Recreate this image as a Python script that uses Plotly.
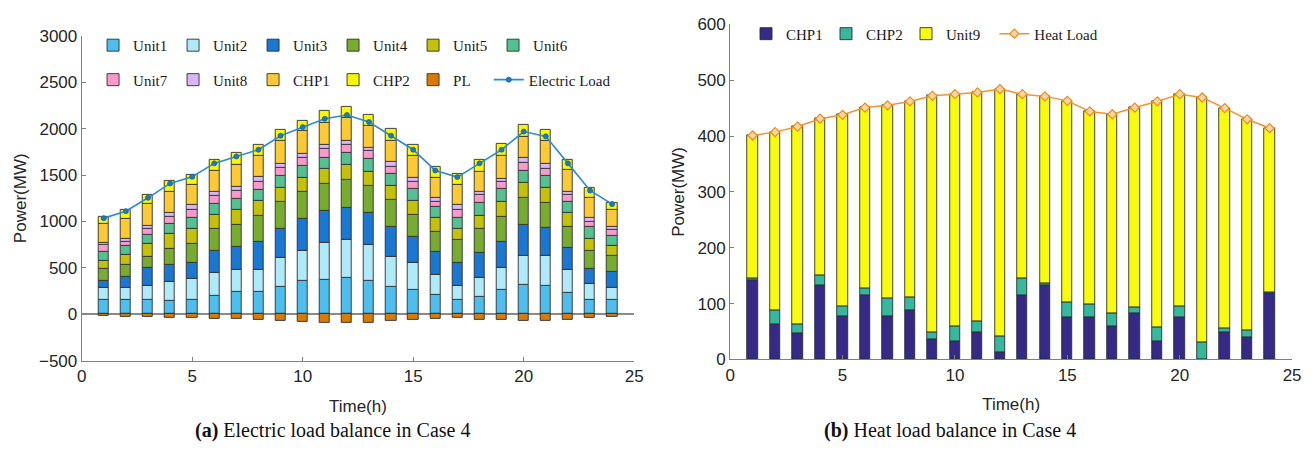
import plotly.graph_objects as go
from plotly.subplots import make_subplots

# ---- data -----------------------------------------------------------------
hours = list(range(1, 25))

# Electric balance (MW)
unit1 = [158, 158, 151, 144, 161, 202, 247, 247, 295, 357, 374, 398, 363, 297, 262, 209, 158, 185, 262, 316, 305, 226, 155, 158]
unit2 = [130, 130, 154, 206, 223, 240, 234, 237, 309, 325, 394, 405, 388, 317, 290, 216, 147, 203, 239, 315, 326, 250, 174, 130]
unit3 = [77, 113, 199, 188, 168, 237, 247, 301, 319, 344, 343, 349, 343, 326, 285, 252, 254, 278, 281, 336, 298, 241, 165, 170]
unit4 = [130, 127, 117, 169, 209, 244, 240, 275, 291, 298, 292, 296, 292, 291, 240, 212, 240, 260, 271, 288, 268, 223, 188, 172]
unit5 = [84, 110, 140, 157, 162, 147, 155, 161, 151, 147, 161, 160, 154, 155, 147, 148, 118, 140, 157, 165, 164, 154, 130, 105]
unit6 = [94, 96, 93, 110, 120, 120, 126, 124, 124, 127, 124, 128, 130, 130, 127, 116, 122, 130, 138, 130, 128, 113, 128, 112]
unit7 = [76, 51, 69, 76, 86, 83, 79, 82, 85, 86, 92, 88, 86, 76, 76, 62, 86, 86, 75, 83, 78, 83, 61, 58]
unit8 = [20, 28, 34, 44, 51, 51, 41, 52, 52, 45, 44, 42, 41, 51, 44, 44, 51, 41, 41, 51, 52, 34, 42, 35]
chp1_e = [204, 213, 230, 223, 216, 223, 244, 226, 240, 247, 241, 247, 230, 230, 234, 213, 223, 216, 244, 233, 247, 233, 212, 182]
chp2_e = [76, 103, 96, 120, 110, 120, 127, 119, 120, 113, 127, 123, 120, 120, 116, 121, 110, 127, 127, 120, 120, 110, 103, 82]
ploss = [-20, -22, -28, -33, -35, -45, -50, -55, -68, -80, -88, -93, -89, -72, -62, -45, -38, -55, -62, -75, -68, -55, -35, -25]
elec_load = [1036, 1111, 1255, 1410, 1482, 1626, 1701, 1773, 1924, 2017, 2106, 2147, 2072, 1924, 1773, 1550, 1478, 1626, 1773, 1969, 1917, 1626, 1334, 1187]

# Heat balance (MW)
chp1_h = [141, 63, 47, 133, 78, 114, 78, 88, 36, 32, 49, 13, 115, 133, 76, 76, 59, 83, 33, 76, 1, 48, 40, 118]
chp2_h = [4, 25, 16, 17, 18, 13, 31, 24, 13, 27, 19, 29, 30, 4, 26, 22, 24, 11, 24, 20, 30, 7, 12, 3]
unit9 = [256, 319, 354, 281, 342, 324, 346, 350, 423, 416, 410, 442, 330, 334, 361, 346, 356, 357, 405, 379, 438, 395, 378, 293]
heat_load = [401, 407, 417, 431, 438, 451, 455, 462, 472, 475, 478, 484, 475, 471, 463, 444, 439, 451, 462, 475, 469, 450, 430, 414]

# ---- styling ----------------------------------------------------------------
W, H = 1312, 456
SANS = "Liberation Sans, Arial, sans-serif"
SERIF = "Liberation Serif, Times New Roman, serif"
AX = "#808080"
TXT = "#262626"
EDGE = "#2e2e2e"
BAR_W = 0.46

elec_series = [
    ("Unit1", unit1, "#4DBEEE", "legend"),
    ("Unit2", unit2, "#AEEAFA", "legend"),
    ("Unit3", unit3, "#1A78D2", "legend"),
    ("Unit4", unit4, "#77AC30", "legend"),
    ("Unit5", unit5, "#C3C10A", "legend"),
    ("Unit6", unit6, "#55C190", "legend"),
    ("Unit7", unit7, "#FB99CB", "legend2"),
    ("Unit8", unit8, "#D8B6FA", "legend2"),
    ("CHP1", chp1_e, "#FDCA35", "legend2"),
    ("CHP2", chp2_e, "#F8F800", "legend2"),
    ("PL", ploss, "#D97A06", "legend2"),
]

heat_series = [
    ("CHP1", chp1_h, "#352A87"),
    ("CHP2", chp2_h, "#36B89C"),
    ("Unit9", unit9, "#F9FB0E"),
]

fig = make_subplots(rows=1, cols=2)

for name, vals, color, lg in elec_series:
    fig.add_trace(go.Bar(
        x=hours, y=vals, name=name, width=BAR_W,
        marker=dict(color=color, line=dict(color=EDGE, width=0.9)),
        legend=lg,
    ), row=1, col=1)

fig.add_trace(go.Scatter(
    x=hours, y=elec_load, name="Electric Load", mode="lines+markers",
    line=dict(color="#2A8CD6", width=1.6),
    marker=dict(symbol="circle", size=5, color="#1C78C4",
                line=dict(color="#1466AE", width=0.8)),
    legend="legend4",
), row=1, col=1)

for name, vals, color in heat_series:
    fig.add_trace(go.Bar(
        x=hours, y=vals, name=name, width=BAR_W,
        marker=dict(color=color, line=dict(color=EDGE, width=0.9)),
        legend="legend3",
    ), row=1, col=2)

fig.add_trace(go.Scatter(
    x=hours, y=heat_load, name="Heat Load", mode="lines+markers",
    line=dict(color="#F29433", width=1.5),
    marker=dict(symbol="diamond", size=7, color="#FBD7A6",
                line=dict(color="#EE8A1C", width=1.2)),
    legend="legend5",
), row=1, col=2)

# plot areas in pixels -> paper fractions
def px_x(x):
    return x / W

def px_y(y):
    return 1 - y / H

axis_common = dict(
    showgrid=False, showline=True, linecolor=AX, linewidth=1,
    ticks="inside", ticklen=4, tickcolor=AX, tickwidth=1,
    tickfont=dict(family=SANS, size=17, color=TXT),
    title_font=dict(family=SANS, size=17, color=TXT),
    mirror=False,
)

fig.update_xaxes(**axis_common)
fig.update_yaxes(**axis_common)

fig.update_layout(
    xaxis=dict(domain=[px_x(77.5), px_x(636)], range=[0, 25], tickvals=[0, 5, 10, 15, 20, 25],
               title=dict(text="Time(h)", standoff=14), zeroline=False),
    yaxis=dict(domain=[px_y(367), px_y(28)], range=[-500, 3000],
               tickvals=[-500, 0, 500, 1000, 1500, 2000, 2500, 3000],
               title=dict(text="Power(MW)", standoff=8),
               zeroline=True, zerolinecolor="#8a8a8a", zerolinewidth=1.5),
    xaxis2=dict(domain=[px_x(733), px_x(1301)], range=[0, 25], tickvals=[0, 5, 10, 15, 20, 25],
                title=dict(text="Time(h)", standoff=14), zeroline=False),
    yaxis2=dict(domain=[px_y(365.7), px_y(16)], range=[0, 600],
                tickvals=[0, 100, 200, 300, 400, 500, 600],
                title=dict(text="Power(MW)", standoff=8), zeroline=False),
)

legend_common = dict(
    orientation="h",
    font=dict(family=SERIF, size=15, color="#1a1a1a"),
    bgcolor="rgba(0,0,0,0)", borderwidth=0, traceorder="normal",
    xanchor="left", yanchor="middle", itemwidth=30,
)
grid_cols = dict(entrywidth=35, entrywidthmode="pixels")

fig.update_layout(
    width=W, height=H,
    margin=dict(l=0, r=0, t=0, b=0),
    paper_bgcolor="white", plot_bgcolor="white",
    barmode="relative", bargap=0,
    showlegend=True,
    legend=dict(**legend_common, **grid_cols, x=px_x(89), y=px_y(38)),
    legend2=dict(**legend_common, **grid_cols, x=px_x(89), y=px_y(74)),
    legend3=dict(**legend_common, **grid_cols, x=px_x(749), y=px_y(26)),
    legend4=dict(**legend_common, x=px_x(489), y=px_y(74)),
    legend5=dict(**legend_common, x=px_x(1000), y=px_y(26)),
    annotations=[
        dict(text="<b>(a)</b> Electric load balance in Case 4", x=px_x(331), y=px_y(440),
             xref="paper", yref="paper", showarrow=False, xanchor="center", yanchor="middle",
             font=dict(family=SERIF, size=20, color="#111")),
        dict(text="<b>(b)</b> Heat load balance in Case 4", x=px_x(955), y=px_y(440),
             xref="paper", yref="paper", showarrow=False, xanchor="center", yanchor="middle",
             font=dict(family=SERIF, size=20, color="#111")),
    ],
)

fig.write_html("out.html")
